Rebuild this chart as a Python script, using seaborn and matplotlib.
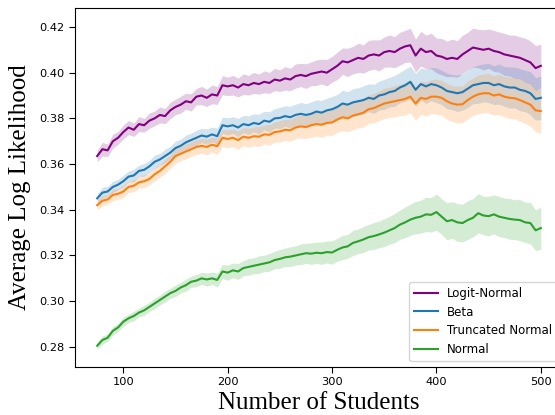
import numpy as np
import pandas as pd
import matplotlib
matplotlib.use("Agg")
import matplotlib.pyplot as plt
import seaborn as sns

# ---------------- data ----------------
students = list(range(75, 501, 5))

logit_normal = [
    0.3635, 0.3665, 0.3660, 0.3700, 0.3715, 0.3740, 0.3760, 0.3750, 0.3775, 0.3770,
    0.3790, 0.3800, 0.3815, 0.3810, 0.3835, 0.3850, 0.3860, 0.3875, 0.3870, 0.3895,
    0.3900, 0.3890, 0.3905, 0.3900, 0.3945, 0.3940, 0.3945, 0.3935, 0.3950, 0.3945,
    0.3955, 0.3950, 0.3960, 0.3955, 0.3970, 0.3965, 0.3975, 0.3970, 0.3985, 0.3990,
    0.3985, 0.3995, 0.4000, 0.4005, 0.4000, 0.4015, 0.4030, 0.4050, 0.4045, 0.4055,
    0.4065, 0.4060, 0.4075, 0.4080, 0.4075, 0.4090, 0.4095, 0.4090, 0.4105, 0.4115,
    0.4120, 0.4075, 0.4105, 0.4090, 0.4095, 0.4075, 0.4070, 0.4060, 0.4065, 0.4060,
    0.4080, 0.4095, 0.4110, 0.4105, 0.4100, 0.4105, 0.4095, 0.4090, 0.4080, 0.4075,
    0.4070, 0.4065, 0.4055, 0.4045, 0.4020, 0.4030]

beta = [
    0.3450, 0.3475, 0.3480, 0.3500, 0.3510, 0.3525, 0.3545, 0.3550, 0.3570, 0.3575,
    0.3590, 0.3610, 0.3620, 0.3635, 0.3650, 0.3670, 0.3680, 0.3695, 0.3705, 0.3715,
    0.3725, 0.3720, 0.3730, 0.3722, 0.3770, 0.3765, 0.3770, 0.3760, 0.3775, 0.3770,
    0.3780, 0.3775, 0.3790, 0.3785, 0.3800, 0.3802, 0.3810, 0.3805, 0.3815, 0.3820,
    0.3815, 0.3820, 0.3830, 0.3825, 0.3835, 0.3840, 0.3850, 0.3865, 0.3860, 0.3870,
    0.3875, 0.3880, 0.3890, 0.3885, 0.3900, 0.3905, 0.3915, 0.3920, 0.3935, 0.3945,
    0.3960, 0.3925, 0.3950, 0.3940, 0.3950, 0.3945, 0.3935, 0.3920, 0.3915, 0.3910,
    0.3915, 0.3930, 0.3945, 0.3950, 0.3955, 0.3955, 0.3945, 0.3950, 0.3940, 0.3935,
    0.3935, 0.3925, 0.3920, 0.3910, 0.3885, 0.3890]

truncated_normal = [
    0.3420, 0.3440, 0.3445, 0.3465, 0.3470, 0.3480, 0.3500, 0.3505, 0.3520, 0.3525,
    0.3535, 0.3555, 0.3570, 0.3590, 0.3610, 0.3635, 0.3645, 0.3655, 0.3665, 0.3675,
    0.3680, 0.3675, 0.3685, 0.3678, 0.3715, 0.3710, 0.3715, 0.3705, 0.3720, 0.3715,
    0.3722, 0.3720, 0.3730, 0.3728, 0.3740, 0.3743, 0.3750, 0.3748, 0.3760, 0.3765,
    0.3762, 0.3770, 0.3775, 0.3772, 0.3780, 0.3782, 0.3795, 0.3805, 0.3800, 0.3812,
    0.3818, 0.3825, 0.3840, 0.3845, 0.3855, 0.3865, 0.3870, 0.3875, 0.3880, 0.3885,
    0.3895, 0.3865, 0.3890, 0.3885, 0.3895, 0.3895, 0.3890, 0.3875, 0.3865, 0.3860,
    0.3862, 0.3880, 0.3895, 0.3905, 0.3910, 0.3910, 0.3900, 0.3905, 0.3895, 0.3890,
    0.3888, 0.3880, 0.3870, 0.3860, 0.3835, 0.3832]

normal = [
    0.2805, 0.2830, 0.2840, 0.2870, 0.2885, 0.2910, 0.2925, 0.2935, 0.2950, 0.2960,
    0.2975, 0.2990, 0.3005, 0.3020, 0.3035, 0.3045, 0.3060, 0.3070, 0.3085, 0.3090,
    0.3100, 0.3095, 0.3100, 0.3093, 0.3130, 0.3125, 0.3135, 0.3130, 0.3145, 0.3150,
    0.3155, 0.3160, 0.3165, 0.3170, 0.3180, 0.3185, 0.3192, 0.3195, 0.3200, 0.3205,
    0.3210, 0.3208, 0.3212, 0.3210, 0.3215, 0.3213, 0.3225, 0.3235, 0.3240, 0.3255,
    0.3262, 0.3270, 0.3280, 0.3285, 0.3292, 0.3300, 0.3310, 0.3320, 0.3335, 0.3345,
    0.3357, 0.3365, 0.3370, 0.3380, 0.3378, 0.3390, 0.3370, 0.3350, 0.3355, 0.3345,
    0.3342, 0.3355, 0.3365, 0.3385, 0.3375, 0.3372, 0.3380, 0.3370, 0.3365, 0.3360,
    0.3357, 0.3355, 0.3345, 0.3342, 0.3310, 0.3320]

# half-width of the shaded confidence bands
logit_normal_band = [
    0.0025, 0.0030, 0.0027, 0.0031, 0.0028, 0.0030, 0.0031, 0.0029, 0.0033, 0.0030,
    0.0034, 0.0032, 0.0035, 0.0033, 0.0036, 0.0034, 0.0037, 0.0035, 0.0038, 0.0036,
    0.0040, 0.0038, 0.0041, 0.0039, 0.0042, 0.0040, 0.0043, 0.0041, 0.0045, 0.0043,
    0.0046, 0.0044, 0.0048, 0.0046, 0.0049, 0.0047, 0.0051, 0.0049, 0.0053, 0.0051,
    0.0054, 0.0052, 0.0056, 0.0054, 0.0058, 0.0056, 0.0060, 0.0058, 0.0062, 0.0060,
    0.0064, 0.0062, 0.0066, 0.0064, 0.0068, 0.0066, 0.0070, 0.0068, 0.0072, 0.0070,
    0.0074, 0.0072, 0.0076, 0.0074, 0.0078, 0.0076, 0.0080, 0.0078, 0.0082, 0.0080,
    0.0084, 0.0082, 0.0086, 0.0084, 0.0088, 0.0086, 0.0090, 0.0088, 0.0092, 0.0090,
    0.0094, 0.0092, 0.0096, 0.0094, 0.0098, 0.0096]

beta_band = [
    0.0020, 0.0024, 0.0022, 0.0025, 0.0023, 0.0026, 0.0024, 0.0027, 0.0025, 0.0028,
    0.0026, 0.0029, 0.0027, 0.0030, 0.0028, 0.0031, 0.0029, 0.0032, 0.0030, 0.0033,
    0.0031, 0.0034, 0.0032, 0.0035, 0.0036, 0.0038, 0.0037, 0.0040, 0.0038, 0.0041,
    0.0040, 0.0043, 0.0041, 0.0044, 0.0043, 0.0046, 0.0045, 0.0048, 0.0047, 0.0050,
    0.0049, 0.0052, 0.0051, 0.0054, 0.0053, 0.0056, 0.0055, 0.0058, 0.0057, 0.0060,
    0.0059, 0.0062, 0.0061, 0.0064, 0.0063, 0.0066, 0.0065, 0.0068, 0.0067, 0.0070,
    0.0069, 0.0072, 0.0071, 0.0074, 0.0073, 0.0076, 0.0075, 0.0078, 0.0077, 0.0080,
    0.0079, 0.0082, 0.0081, 0.0084, 0.0083, 0.0086, 0.0085, 0.0088, 0.0087, 0.0090,
    0.0089, 0.0092, 0.0091, 0.0094, 0.0093, 0.0095]

truncated_normal_band = [
    0.0020, 0.0023, 0.0021, 0.0025, 0.0023, 0.0026, 0.0024, 0.0027, 0.0025, 0.0028,
    0.0027, 0.0029, 0.0028, 0.0031, 0.0029, 0.0032, 0.0030, 0.0033, 0.0031, 0.0034,
    0.0032, 0.0035, 0.0033, 0.0036, 0.0037, 0.0039, 0.0038, 0.0041, 0.0039, 0.0042,
    0.0041, 0.0044, 0.0042, 0.0045, 0.0044, 0.0047, 0.0046, 0.0049, 0.0048, 0.0051,
    0.0050, 0.0053, 0.0052, 0.0055, 0.0054, 0.0057, 0.0056, 0.0059, 0.0058, 0.0061,
    0.0060, 0.0063, 0.0062, 0.0065, 0.0064, 0.0067, 0.0066, 0.0069, 0.0068, 0.0071,
    0.0070, 0.0073, 0.0072, 0.0075, 0.0074, 0.0077, 0.0076, 0.0079, 0.0078, 0.0081,
    0.0080, 0.0083, 0.0082, 0.0085, 0.0084, 0.0087, 0.0086, 0.0089, 0.0088, 0.0091,
    0.0090, 0.0093, 0.0092, 0.0095, 0.0094, 0.0096]

normal_band = [
    0.0015, 0.0018, 0.0016, 0.0019, 0.0017, 0.0020, 0.0018, 0.0021, 0.0019, 0.0022,
    0.0020, 0.0023, 0.0021, 0.0024, 0.0022, 0.0025, 0.0023, 0.0026, 0.0024, 0.0027,
    0.0026, 0.0029, 0.0027, 0.0030, 0.0031, 0.0033, 0.0032, 0.0035, 0.0033, 0.0036,
    0.0035, 0.0038, 0.0036, 0.0039, 0.0038, 0.0041, 0.0040, 0.0043, 0.0042, 0.0045,
    0.0044, 0.0047, 0.0046, 0.0049, 0.0048, 0.0051, 0.0050, 0.0053, 0.0052, 0.0055,
    0.0054, 0.0057, 0.0056, 0.0059, 0.0058, 0.0061, 0.0061, 0.0064, 0.0064, 0.0067,
    0.0068, 0.0071, 0.0072, 0.0075, 0.0076, 0.0079, 0.0078, 0.0081, 0.0080, 0.0083,
    0.0082, 0.0085, 0.0083, 0.0086, 0.0084, 0.0087, 0.0085, 0.0088, 0.0086, 0.0089,
    0.0087, 0.0090, 0.0088, 0.0091, 0.0089, 0.0092]

series_names = ["Logit-Normal", "Beta", "Truncated Normal", "Normal"]
series_values = [logit_normal, beta, truncated_normal, normal]
series_bands = [logit_normal_band, beta_band, truncated_normal_band, normal_band]
colors = ["#800080", "#1f77b4", "#ff7f0e", "#2ca02c"]

x_label = "Number of Students"
y_label = "Average Log Likelihood"

# ---------------- figure ----------------
df = pd.concat(
    [pd.DataFrame({"students": students, "value": v, "band": b, "model": n})
     for n, v, b in zip(series_names, series_values, series_bands)],
    ignore_index=True)

fig = plt.figure(figsize=(5.55, 4.15), dpi=100)
W, H = 555, 415
ax = fig.add_axes([75 / W, (H - 367) / H, (563 - 75) / W, (367 - 8) / H])

palette = dict(zip(series_names, colors))
sns.lineplot(data=df, x="students", y="value", hue="model",
             hue_order=series_names, palette=palette, linewidth=1.5, ax=ax)

for name in series_names:
    sub = df[df["model"] == name]
    ax.fill_between(sub["students"], sub["value"] - sub["band"],
                    sub["value"] + sub["band"], color=palette[name],
                    alpha=0.2, linewidth=0)

ax.set_xlim(53.75, 521.25)
ax.set_ylim(0.2712, 0.4283)
ax.set_xticks([100, 200, 300, 400, 500])
ax.set_yticks([0.28, 0.30, 0.32, 0.34, 0.36, 0.38, 0.40, 0.42])
ax.yaxis.set_major_formatter(matplotlib.ticker.FormatStrFormatter("%.2f"))
ax.tick_params(labelsize=8.2, length=4)

serif = ["Liberation Serif", "DejaVu Serif"]
ax.set_xlabel(x_label, fontsize=18, family=serif, labelpad=3)
ax.set_ylabel(y_label, fontsize=18, family=serif, labelpad=6)

leg = ax.legend(loc="lower right", fontsize=8.5, frameon=True,
                handlelength=2.0, borderaxespad=0.5)
leg.get_frame().set_edgecolor("#cccccc")

fig.savefig("out.png", dpi=100)
